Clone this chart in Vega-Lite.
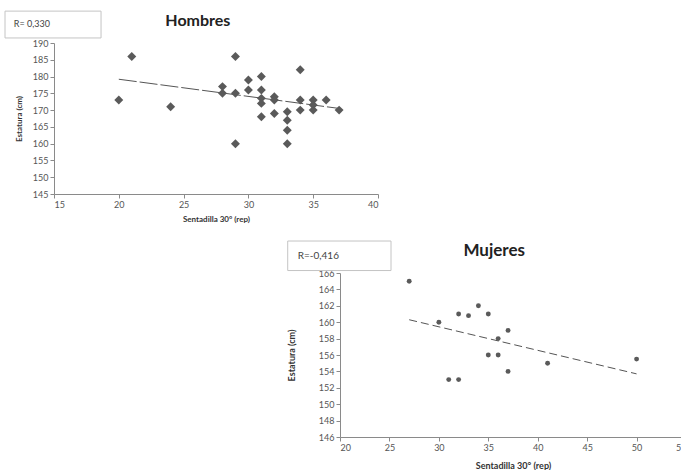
{
  "$schema": "https://vega.github.io/schema/vega-lite/v6.json",
  "padding": {"left": 4, "top": 10, "right": 0, "bottom": 0},
  "background": "white",
  "config": {
    "view": {"stroke": null},
    "font": "Lato",
    "axis": {
      "grid": false,
      "zindex": 1,
      "labelOverlap": false,
      "domainColor": "#8a8a8a",
      "tickColor": "#8a8a8a",
      "tickSize": 4,
      "labelColor": "#555555",
      "labelFont": "Lato",
      "labelFontSize": 9,
      "labelPadding": 2,
      "titleFont": "Lato",
      "titleFontSize": 8,
      "titleFontWeight": "bold",
      "titleColor": "#333333"
    }
  },
  "datasets": {
    "hombres": [
      {"sentadilla": 20, "estatura": 173},
      {"sentadilla": 21, "estatura": 186},
      {"sentadilla": 24, "estatura": 171},
      {"sentadilla": 28, "estatura": 177},
      {"sentadilla": 28, "estatura": 175},
      {"sentadilla": 29, "estatura": 186},
      {"sentadilla": 29, "estatura": 175},
      {"sentadilla": 29, "estatura": 160},
      {"sentadilla": 30, "estatura": 179},
      {"sentadilla": 30, "estatura": 176},
      {"sentadilla": 31, "estatura": 180},
      {"sentadilla": 31, "estatura": 176},
      {"sentadilla": 31, "estatura": 173.5},
      {"sentadilla": 31, "estatura": 172},
      {"sentadilla": 31, "estatura": 168},
      {"sentadilla": 32, "estatura": 174},
      {"sentadilla": 32, "estatura": 173},
      {"sentadilla": 32, "estatura": 169},
      {"sentadilla": 33, "estatura": 169.5},
      {"sentadilla": 33, "estatura": 167},
      {"sentadilla": 33, "estatura": 164},
      {"sentadilla": 33, "estatura": 160},
      {"sentadilla": 34, "estatura": 182},
      {"sentadilla": 34, "estatura": 173},
      {"sentadilla": 34, "estatura": 170},
      {"sentadilla": 35, "estatura": 173},
      {"sentadilla": 35, "estatura": 171.5},
      {"sentadilla": 35, "estatura": 170},
      {"sentadilla": 36, "estatura": 173},
      {"sentadilla": 37, "estatura": 170}
    ],
    "hTrend": [
      {"sentadilla": 20, "estatura": 179.2},
      {"sentadilla": 37, "estatura": 170.5}
    ],
    "mujeres": [
      {"sentadilla": 27, "estatura": 165},
      {"sentadilla": 30, "estatura": 160},
      {"sentadilla": 31, "estatura": 153},
      {"sentadilla": 32, "estatura": 161},
      {"sentadilla": 32, "estatura": 153},
      {"sentadilla": 33, "estatura": 160.8},
      {"sentadilla": 34, "estatura": 162},
      {"sentadilla": 35, "estatura": 161},
      {"sentadilla": 35, "estatura": 156},
      {"sentadilla": 36, "estatura": 158},
      {"sentadilla": 36, "estatura": 156},
      {"sentadilla": 37, "estatura": 159},
      {"sentadilla": 37, "estatura": 154},
      {"sentadilla": 41, "estatura": 155},
      {"sentadilla": 50, "estatura": 155.5}
    ],
    "mTrend": [
      {"sentadilla": 27, "estatura": 160.3},
      {"sentadilla": 50, "estatura": 153.7}
    ],
    "hNote": [{"label": "R= 0,330", "title": "Hombres"}],
    "mNote": [{"label": "R=-0,416", "title": "Mujeres"}]
  },
  "spacing": 17,
  "vconcat": [
    {
      "width": 324,
      "height": 151,
      "layer": [
        {
          "data": {"name": "hTrend"},
          "mark": {"type": "line", "color": "#555555", "strokeWidth": 1, "strokeDash": [18, 3]},
          "encoding": {
            "x": {"field": "sentadilla", "type": "quantitative", "title": "Sentadilla 30° (rep)",
              "scale": {"domain": [15, 40], "nice": false, "zero": false},
              "axis": {"values": [15, 20, 25, 30, 35, 40], "titlePadding": 6, "labelOverlap": false}},
            "y": {"field": "estatura", "type": "quantitative", "title": "Estatura (cm)",
              "scale": {"domain": [145, 190], "nice": false, "zero": false},
              "axis": {"values": [145, 150, 155, 160, 165, 170, 175, 180, 185, 190], "titlePadding": 9, "labelOverlap": false}}
          }
        },
        {
          "data": {"name": "hombres"},
          "mark": {"type": "point", "shape": "diamond", "filled": true, "size": 80, "color": "#5a5a5a", "opacity": 1},
          "encoding": {
            "x": {"field": "sentadilla", "type": "quantitative", "title": "Sentadilla 30° (rep)",
              "scale": {"domain": [15, 40], "nice": false, "zero": false},
              "axis": {"values": [15, 20, 25, 30, 35, 40], "titlePadding": 6, "labelOverlap": false}},
            "y": {"field": "estatura", "type": "quantitative", "title": "Estatura (cm)",
              "scale": {"domain": [145, 190], "nice": false, "zero": false},
              "axis": {"values": [145, 150, 155, 160, 165, 170, 175, 180, 185, 190], "titlePadding": 9, "labelOverlap": false}}
          }
        },
        {
          "data": {"name": "hNote"},
          "mark": {"type": "rect", "fill": "white", "stroke": "#c4c4c4", "strokeWidth": 1, "clip": false},
          "encoding": {
            "x": {"datum": 11.22, "type": "quantitative", "title": "Sentadilla 30° (rep)",
              "axis": {"values": [15, 20, 25, 30, 35, 40], "titlePadding": 6, "labelOverlap": false}},
            "x2": {"datum": 18.63},
            "y": {"datum": 199.5, "type": "quantitative", "title": "Estatura (cm)",
              "axis": {"values": [145, 150, 155, 160, 165, 170, 175, 180, 185, 190], "titlePadding": 9, "labelOverlap": false}},
            "y2": {"datum": 191.5}
          }
        },
        {
          "data": {"name": "hNote"},
          "mark": {"type": "text", "align": "left", "baseline": "middle", "fontSize": 9, "color": "#444444", "clip": false},
          "encoding": {
            "x": {"datum": 11.9, "type": "quantitative", "title": "Sentadilla 30° (rep)",
              "axis": {"values": [15, 20, 25, 30, 35, 40], "titlePadding": 6, "labelOverlap": false}},
            "y": {"datum": 195.6, "type": "quantitative", "title": "Estatura (cm)",
              "axis": {"values": [145, 150, 155, 160, 165, 170, 175, 180, 185, 190], "titlePadding": 9, "labelOverlap": false}},
            "text": {"field": "label"}
          }
        },
        {
          "data": {"name": "hNote"},
          "mark": {"type": "text", "align": "center", "baseline": "alphabetic", "fontSize": 16, "fontWeight": "bold", "color": "#222222", "clip": false},
          "encoding": {
            "x": {"datum": 26.1, "type": "quantitative", "title": "Sentadilla 30° (rep)",
              "axis": {"values": [15, 20, 25, 30, 35, 40], "titlePadding": 6, "labelOverlap": false}},
            "y": {"datum": 195.1, "type": "quantitative", "title": "Estatura (cm)",
              "axis": {"values": [145, 150, 155, 160, 165, 170, 175, 180, 185, 190], "titlePadding": 9, "labelOverlap": false}},
            "text": {"field": "title"}
          }
        }
      ]
    },
    {
      "spacing": 0,
      "hconcat": [
        {
          "width": 233,
          "height": 1,
          "data": {"values": []},
          "mark": {"type": "point", "opacity": 0},
          "encoding": {}
        },
        {
          "width": 346,
          "height": 164,
          "layer": [
            {
              "data": {"name": "mTrend"},
              "mark": {"type": "line", "color": "#555555", "strokeWidth": 1, "strokeDash": [8, 4]},
              "encoding": {
                "x": {"field": "sentadilla", "type": "quantitative", "title": "Sentadilla 30° (rep)",
                  "scale": {"domain": [20, 55], "nice": false, "zero": false},
                  "axis": {"values": [20, 25, 30, 35, 40, 45, 50, 55], "titlePadding": 9, "titleFontSize": 9, "labelOverlap": false}},
                "y": {"field": "estatura", "type": "quantitative", "title": "Estatura (cm)",
                  "scale": {"domain": [146, 166], "nice": false, "zero": false},
                  "axis": {"values": [146, 148, 150, 152, 154, 156, 158, 160, 162, 164, 166], "titlePadding": 22, "titleFontSize": 9, "labelOverlap": false}}
              }
            },
            {
              "data": {"name": "mujeres"},
              "mark": {"type": "circle", "size": 24, "color": "#5a5a5a", "opacity": 1},
              "encoding": {
                "x": {"field": "sentadilla", "type": "quantitative", "title": "Sentadilla 30° (rep)",
                  "scale": {"domain": [20, 55], "nice": false, "zero": false},
                  "axis": {"values": [20, 25, 30, 35, 40, 45, 50, 55], "titlePadding": 9, "titleFontSize": 9, "labelOverlap": false}},
                "y": {"field": "estatura", "type": "quantitative", "title": "Estatura (cm)",
                  "scale": {"domain": [146, 166], "nice": false, "zero": false},
                  "axis": {"values": [146, 148, 150, 152, 154, 156, 158, 160, 162, 164, 166], "titlePadding": 22, "titleFontSize": 9, "labelOverlap": false}}
              }
            },
            {
              "data": {"name": "mNote"},
              "mark": {"type": "rect", "fill": "white", "stroke": "#c4c4c4", "strokeWidth": 1, "clip": false},
              "encoding": {
                "x": {"datum": 14.71, "type": "quantitative", "title": "Sentadilla 30° (rep)",
                  "axis": {"values": [20, 25, 30, 35, 40, 45, 50, 55], "titlePadding": 9, "titleFontSize": 9, "labelOverlap": false}},
                "x2": {"datum": 25.16},
                "y": {"datum": 169.9, "type": "quantitative", "title": "Estatura (cm)",
                  "axis": {"values": [146, 148, 150, 152, 154, 156, 158, 160, 162, 164, 166], "titlePadding": 22, "titleFontSize": 9, "labelOverlap": false}},
                "y2": {"datum": 166.3}
              }
            },
            {
              "data": {"name": "mNote"},
              "mark": {"type": "text", "align": "left", "baseline": "middle", "fontSize": 10, "color": "#444444", "clip": false},
              "encoding": {
                "x": {"datum": 15.72, "type": "quantitative", "title": "Sentadilla 30° (rep)",
                  "axis": {"values": [20, 25, 30, 35, 40, 45, 50, 55], "titlePadding": 9, "titleFontSize": 9, "labelOverlap": false}},
                "y": {"datum": 168.1, "type": "quantitative", "title": "Estatura (cm)",
                  "axis": {"values": [146, 148, 150, 152, 154, 156, 158, 160, 162, 164, 166], "titlePadding": 22, "titleFontSize": 9, "labelOverlap": false}},
                "text": {"field": "label"}
              }
            },
            {
              "data": {"name": "mNote"},
              "mark": {"type": "text", "align": "center", "baseline": "alphabetic", "fontSize": 17, "fontWeight": "bold", "color": "#222222", "clip": false},
              "encoding": {
                "x": {"datum": 35.6, "type": "quantitative", "title": "Sentadilla 30° (rep)",
                  "axis": {"values": [20, 25, 30, 35, 40, 45, 50, 55], "titlePadding": 9, "titleFontSize": 9, "labelOverlap": false}},
                "y": {"datum": 168.1, "type": "quantitative", "title": "Estatura (cm)",
                  "axis": {"values": [146, 148, 150, 152, 154, 156, 158, 160, 162, 164, 166], "titlePadding": 22, "titleFontSize": 9, "labelOverlap": false}},
                "text": {"field": "title"}
              }
            }
          ]
        }
      ]
    }
  ]
}
